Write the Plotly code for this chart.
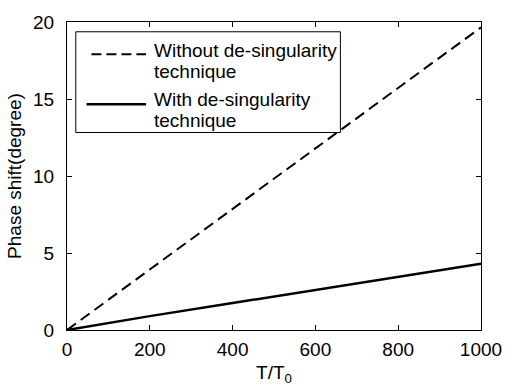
import plotly.graph_objects as go

x_vals = [0, 200, 400, 600, 800, 1000]
without_desing = [0, 3.93, 7.86, 11.8, 15.7, 19.65]
with_desing = [0, 0.9, 1.75, 2.6, 3.45, 4.3]

x_ticks = [0, 200, 400, 600, 800, 1000]
y_ticks = [0, 5, 10, 15, 20]

series_names = ["Without de-singularity", "With de-singularity"]
series_sub = ["technique", "technique"]

W, H = 514, 392
L, R, T, B = 67, 23, 15, 62
pw, ph = W - L - R, H - T - B

def px(xp):
    return (xp - L) / pw

def py(yp):
    return (H - B - yp) / ph

font = dict(family="Liberation Sans, Arial, sans-serif", size=19, color="black")

fig = go.Figure()
fig.add_trace(go.Scatter(x=x_vals, y=without_desing, mode="lines",
                         name=series_names[0] + " " + series_sub[0],
                         line=dict(color="black", width=2, dash="11px,6px")))
fig.add_trace(go.Scatter(x=x_vals, y=with_desing, mode="lines",
                         name=series_names[1] + " " + series_sub[1],
                         line=dict(color="black", width=2.5)))

# manual legend (box, samples, texts)
shapes = [
    dict(type="rect", xref="paper", yref="paper", x0=px(76), x1=px(347),
         y0=py(128), y1=py(25), line=dict(color="black", width=1),
         fillcolor="white", layer="above"),
    dict(type="line", xref="paper", yref="paper", x0=px(92), x1=px(148),
         y0=py(48), y1=py(48), line=dict(color="black", width=2, dash="10px,5px"),
         layer="above"),
    dict(type="line", xref="paper", yref="paper", x0=px(87), x1=px(148),
         y0=py(99), y1=py(99), line=dict(color="black", width=2.5),
         layer="above"),
]
annotations = []
for txt, yc in [(series_names[0], 44), (series_sub[0], 66),
                (series_names[1], 94), (series_sub[1], 116)]:
    annotations.append(dict(text=txt, xref="paper", yref="paper", x=px(154), y=py(yc),
                            xanchor="left", yanchor="middle", showarrow=False,
                            font=font))

axis_common = dict(showgrid=False, zeroline=False, showline=True, linecolor="black",
                   linewidth=1, mirror="ticks", ticks="inside", ticklen=5,
                   tickcolor="black", tickfont=font)

fig.update_layout(
    width=W, height=H,
    margin=dict(l=L, r=R, t=T, b=B),
    paper_bgcolor="white", plot_bgcolor="white",
    font=font,
    showlegend=False,
    shapes=shapes,
    annotations=annotations,
    xaxis=dict(range=[0, 1000], tickvals=x_ticks, ticklabelstandoff=2,
               title=dict(text="T/T<sub>0</sub>", font=font, standoff=6),
               **axis_common),
    yaxis=dict(range=[0, 20], tickvals=y_ticks, ticklabelstandoff=8,
               title=dict(text="Phase shift(degree)", font=font, standoff=6),
               **axis_common),
)

fig.write_html("out.html")
